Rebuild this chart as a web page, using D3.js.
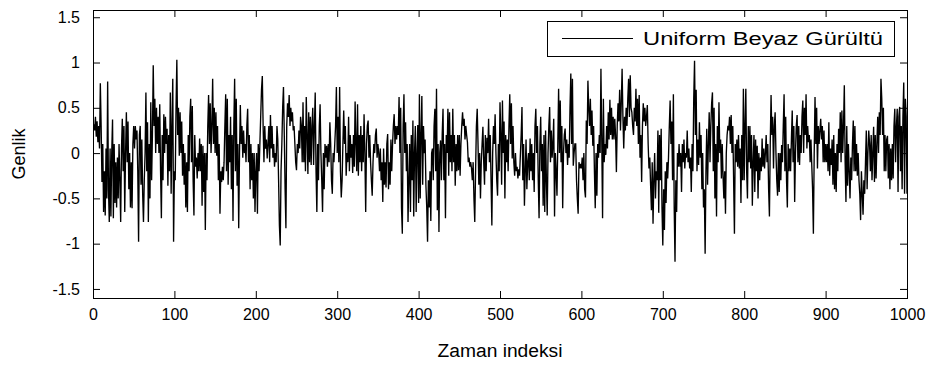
<!DOCTYPE html>
<html>
<head>
<meta charset="utf-8">
<script src="https://cdn.jsdelivr.net/npm/d3@7/dist/d3.min.js"></script>
<style>
  body { margin: 0; background: #fff; }
  svg text { font-family: "Liberation Sans", Arial, Helvetica, sans-serif; fill: #000; }
</style>
</head>
<body>
<svg id="chart" width="935" height="367"></svg>
<script>
// Axis ticks and labels
const xTicks = [0, 100, 200, 300, 400, 500, 600, 700, 800, 900, 1000];
const yTicks = [-1.5, -1, -0.5, 0, 0.5, 1, 1.5];
const xLabel = "Zaman indeksi";
const yLabel = "Genlik";
const legendLabel = "Uniform Beyaz Gürültü";

// Noise samples, n = 1..1000
const genlik = [
  0.32, 0.25, 0.4, 0.18, 0.35, 0.12, 0.3, 0.05, 0.77, 0.3,
  -0.32, 0.1, -0.65, -0.2, -0.69, 0.05, -0.5, 0.79, -0.4, -0.76,
  0.05, -0.7, 0.0, 0.37, -0.72, 0.1, -0.55, -0.1, -0.6, -0.05,
  -0.5, 0.1, -0.3, -0.76, 0.05, 0.38, -0.2, 0.3, -0.65, 0.0,
  0.45, -0.1, 0.35, -0.4, 0.0, -0.6, -0.1, -0.61, 0.1, 0.3,
  0.05, 0.3, 0.15, 0.25, -0.2, -0.98, 0.2, 0.3, -0.35, 0.15,
  -0.45, -0.76, -0.3, 0.0, 0.67, -0.2, 0.34, -0.76, 0.1, -0.5,
  0.56, -0.3, 0.2, 0.97, 0.3, 0.6, 0.0, 0.5, 0.1, 0.4,
  0.0, 0.54, -0.2, -0.72, 0.2, -0.3, 0.43, 0.0, 0.4, 0.1,
  0.27, -0.36, 0.2, -0.2, 0.67, -0.45, 0.3, 0.82, -0.98, -0.2,
  -0.3, 0.5, 1.03, 0.2, 0.5, -0.03, 0.45, 0.0, 0.35, -0.25,
  0.1, -0.35, 0.0, -0.6, -0.1, -0.65, 0.2, -0.2, 0.4, 0.6,
  -0.1, 0.52, -0.3, -0.69, 0.2, -0.15, -0.05, -0.28, 0.0, -0.2,
  0.16, -0.2, 0.1, -0.58, 0.08, -0.43, 0.0, -0.85, 0.0, -0.3,
  0.3, 0.64, 0.1, 0.55, 0.0, 0.3, 0.82, 0.1, 0.5, 0.0,
  0.45, -0.03, 0.3, -0.3, 0.1, -0.67, -0.2, -0.32, -0.15, -0.3,
  -0.1, 0.3, 0.65, -0.2, 0.6, -0.35, 0.2, -0.1, 0.4, -0.4,
  0.2, -0.75, 0.3, 0.82, -0.2, 0.6, -0.36, 0.1, -0.83, 0.0,
  0.53, 0.1, 0.3, -0.05, 0.25, 0.0, 0.1, -0.1, 0.3, 0.49,
  -0.1, 0.2, -0.4, 0.1, -0.3, 0.0, -0.5, 0.0, -0.65, -0.2,
  0.0, -0.67, 0.1, -0.2, 0.1, 0.4, 0.7, 0.85, 0.3, -0.1,
  0.3, 0.05, 0.15, -0.06, 0.1, 0.3, -0.1, 0.42, 0.05, 0.3,
  -0.05, 0.1, -0.15, 0.0, -0.1, 0.3, 0.15, -0.3, -0.8, -1.02,
  -0.2, 0.1, 0.5, 0.73, 0.2, -0.4, -0.83, 0.3, 0.55, 0.4,
  0.64, 0.3, 0.5, 0.35, 0.45, 0.25, 0.3, 0.1, -0.1, -0.19,
  0.1, 0.0, 0.25, 0.05, 0.4, 0.3, -0.1, 0.56, -0.1, 0.3,
  -0.2, 0.62, 0.2, -0.23, 0.45, -0.1, 0.4, -0.13, 0.3, 0.5,
  -0.13, 0.3, 0.67, -0.2, -0.65, 0.1, -0.3, 0.3, 0.54, 0.0,
  -0.3, -0.65, 0.0, -0.4, 0.1, -0.05, 0.08, -0.15, 0.1, -0.1,
  0.34, 0.1, -0.3, -0.45, 0.0, -0.1, 0.1, 0.3, 0.73, 0.0,
  0.4, -0.1, 0.73, -0.2, -0.49, -0.3, 0.1, 0.47, 0.1, 0.3,
  -0.25, 0.0, -0.1, 0.4, -0.2, 0.2, -0.05, 0.1, -0.22, 0.2,
  -0.15, 0.57, 0.1, -0.2, 0.54, -0.25, 0.2, -0.1, 0.3, -0.2,
  0.2, -0.1, 0.43, 0.0, -0.65, 0.1, 0.3, 0.36, -0.05, 0.2,
  -0.1, -0.3, -0.47, -0.1, 0.1, 0.0, 0.2, 0.27, -0.05, 0.1,
  0.0, -0.2, 0.05, -0.3, -0.1, -0.54, 0.05, -0.35, -0.1, -0.38,
  0.1, 0.21, -0.4, -0.1, -0.35, 0.15, -0.2, 0.1, 0.3, 0.43,
  0.1, 0.3, 0.15, 0.3, 0.2, 0.62, 0.0, 0.5, -0.6, -0.89,
  0.3, 0.65, 0.0, 0.34, -0.2, 0.1, -0.76, -0.3, 0.1, -0.65,
  0.2, -0.3, 0.36, -0.7, 0.0, 0.3, -0.65, 0.0, 0.31, -0.55,
  0.65, -0.5, 0.2, 0.63, -0.35, 0.3, 0.0, 0.15, -0.36, -0.6,
  -0.98, -0.3, -0.6, -0.2, -0.75, 0.0, 0.05, -0.3, 0.3, 0.49,
  -0.2, 0.71, -0.63, 0.1, -0.87, 0.0, 0.14, -0.3, 0.2, 0.49,
  -0.3, 0.1, -0.72, 0.2, 0.0, 0.49, -0.25, 0.45, -0.1, 0.2,
  -0.2, 0.49, -0.1, 0.2, -0.36, 0.1, -0.2, 0.2, -0.19, 0.2,
  -0.25, 0.1, 0.3, 0.45, 0.3, 0.38, 0.15, 0.3, 0.2, 0.12,
  -0.1, -0.05, -0.15, -0.1, -0.17, -0.3, -0.1, -0.5, -0.76, -0.2,
  0.3, 0.49, 0.1, -0.35, 0.0, -0.5, -0.1, 0.1, 0.29, -0.1,
  -0.35, 0.2, -0.2, 0.17, 0.0, 0.38, -0.1, 0.2, -0.3, -0.8,
  0.0, 0.3, 0.1, 0.43, 0.0, -0.3, -0.47, 0.1, -0.2, 0.56,
  0.2, -0.35, 0.58, 0.0, 0.35, -0.5, 0.2, -0.1, 0.15, -0.2,
  0.3, 0.65, 0.1, 0.55, -0.06, 0.3, -0.1, -0.25, 0.0, -0.2,
  -0.15, -0.28, -0.18, -0.25, -0.03, 0.2, 0.51, -0.3, 0.1, -0.58,
  -0.2, 0.15, -0.4, -0.1, 0.0, -0.3, 0.16, -0.2, 0.1, -0.3,
  0.0, -0.43, 0.3, 0.49, 0.0, 0.3, -0.3, -0.72, 0.1, 0.4,
  -0.2, 0.1, -0.58, 0.2, -0.65, 0.25, -0.3, -0.69, 0.0, 0.3,
  0.51, -0.1, 0.25, -0.05, 0.1, 0.38, -0.7, 0.0, -0.2, -0.47,
  0.1, 0.71, 0.0, 0.58, -0.1, 0.3, -0.61, 0.0, 0.2, 0.27,
  0.0, 0.15, -0.13, 0.1, -0.05, 0.5, 0.88, 0.1, 0.82, -0.14,
  0.0, 0.1, 0.1, -0.3, -0.5, -0.67, -0.1, -0.17, -0.12, -0.17,
  -0.05, -0.3, 0.0, -0.4, -0.49, 0.36, 0.1, 0.8, 0.5, 0.3,
  0.6, 0.2, 0.47, 0.08, 0.3, -0.2, -0.61, 0.0, -0.47, 0.1,
  -0.05, 0.2, 0.0, 0.93, 0.15, -0.72, 0.6, -0.1, 0.1, -0.02,
  0.3, 0.05, 0.45, 0.15, 0.59, 0.2, 0.5, 0.15, 0.4, 0.15,
  0.38, 0.2, -0.21, 0.3, 0.55, 0.35, 0.7, 0.25, 0.55, 0.93,
  0.4, 0.05, 0.4, 0.25, 0.5, 0.3, 0.6, 0.82, 0.4, 0.86,
  0.5, 0.45, 0.3, 0.2, 0.5, 0.35, 0.71, 0.3, 0.6, 0.1,
  0.64, -0.05, 0.2, -0.32, 0.3, 0.55, 0.35, 0.5, 0.3, 0.4,
  0.53, 0.1, -0.17, -0.05, -0.35, -0.63, -0.1, -0.78, -0.3, 0.0,
  -0.5, -0.2, -0.3, 0.25, -0.66, 0.2, -0.3, 0.27, -0.6, -1.02,
  -0.4, -0.85, -0.2, -0.55, -0.1, -0.28, -0.05, 0.3, 0.58, 0.1,
  0.35, -0.3, 0.65, -0.6, -1.2, -0.3, -0.65, 0.0, -0.15, 0.1,
  -0.15, 0.0, -0.43, 0.1, -0.1, 0.15, -0.17, 0.0, -0.05, 0.25,
  -0.1, 0.05, -0.17, -0.05, -0.43, 0.1, -0.2, 0.6, 1.02, 0.2,
  0.7, -0.2, 0.15, -0.13, 0.34, -0.05, 0.2, -0.4, 0.0, -0.6,
  -0.4, -1.11, -0.2, 0.27, -0.35, 0.1, 0.45, -0.1, 0.3, 0.55,
  0.67, -0.2, 0.5, -0.5, 0.1, -0.7, 0.3, -0.1, 0.56, 0.0,
  0.15, -0.28, 0.1, -0.25, -0.5, -0.2, -0.67, 0.0, 0.2, 0.3,
  0.25, 0.4, 0.1, 0.42, 0.0, 0.3, -0.3, -0.89, 0.1, -0.1,
  0.15, -0.15, 0.2, -0.17, 0.05, -0.55, 0.2, -0.3, 0.71, -0.3,
  0.3, 0.71, -0.2, -0.5, 0.3, -0.1, 0.3, -0.17, 0.2, -0.58,
  -0.1, 0.2, -0.43, 0.15, -0.2, 0.08, -0.5, 0.0, -0.3, -0.05,
  -0.2, 0.16, -0.15, 0.05, -0.17, 0.0, 0.2, -0.1, 0.1, -0.4,
  -0.7, 0.1, 0.64, 0.2, 0.4, -0.17, 0.3, 0.45, 0.0, -0.3,
  -0.47, 0.0, -0.43, 0.0, -0.3, 0.09, -0.1, 0.3, 0.65, -0.2,
  0.4, -0.3, -0.6, 0.1, -0.2, 0.05, -0.2, 0.15, 0.47, -0.1,
  0.3, -0.54, 0.0, 0.3, 0.42, -0.1, 0.3, -0.13, 0.2, 0.0,
  0.4, 0.58, 0.0, 0.5, 0.2, 0.65, 0.05, 0.3, 0.12, 0.2,
  -0.1, 0.15, -0.13, -0.4, -0.89, 0.0, 0.62, 0.1, 0.5, -0.17,
  0.3, 0.1, 0.25, 0.38, 0.15, 0.3, -0.1, 0.25, -0.1, 0.1,
  -0.1, 0.1, -0.2, 0.34, -0.25, 0.05, -0.13, 0.15, -0.35, 0.2,
  -0.4, 0.0, -0.43, 0.1, -0.2, 0.27, 0.0, 0.45, -0.1, 0.47,
  0.0, 0.3, 0.75, -0.1, -0.54, 0.3, -0.36, 0.1, -0.2, -0.5,
  -0.05, -0.3, 0.1, 0.36, -0.2, 0.3, -0.2, 0.1, -0.25, 0.0,
  -0.3, -0.45, -0.74, -0.2, -0.45, -0.68, -0.3, -0.45, -0.1, 0.25,
  -0.4, 0.0, 0.25, 0.1, -0.2, 0.2, -0.3, 0.0, 0.29, -0.32,
  0.2, -0.28, 0.1, 0.4, 0.0, 0.45, 0.2, 0.82, 0.6, 0.2,
  0.5, -0.2, 0.2, -0.2, 0.15, 0.19, -0.28, 0.1, -0.4, 0.05,
  -0.3, 0.1, -0.28, 0.3, 0.49, -0.1, 0.3, 0.49, -0.43, 0.4,
  0.51, -0.2, 0.3, -0.4, 0.4, 0.78, -0.45, 0.6, 0.4, -0.45
];

const svg = d3.select("#chart");
const plot = { left: 93, right: 907, top: 10, bottom: 298 };

const x = d3.scaleLinear().domain([0, 1000]).range([plot.left, plot.right]);
const y = d3.scaleLinear().domain([-1.6, 1.58]).range([plot.bottom, plot.top]);

const fmt = d => String(d);

// Signal trace
const line = d3.line()
  .x((d, i) => x(i + 1))
  .y(d => y(d));

svg.append("path")
  .datum(genlik)
  .attr("fill", "none")
  .attr("stroke", "#000")
  .attr("stroke-width", 1.35)
  .attr("stroke-linejoin", "miter")
  .attr("d", line);

// Axes with inward ticks on all four sides
const tick = 7;
const styleAxis = g => {
  g.select(".domain").remove();
  g.selectAll(".tick line").attr("stroke", "#000");
  g.selectAll(".tick text").attr("font-size", 16).attr("font-family", "Liberation Sans, Arial, sans-serif");
};

svg.append("g")
  .attr("transform", `translate(0,${plot.bottom})`)
  .call(d3.axisBottom(x).tickValues(xTicks).tickFormat(fmt).tickSize(-tick).tickPadding(11))
  .call(styleAxis);

svg.append("g")
  .attr("transform", `translate(0,${plot.top})`)
  .call(d3.axisTop(x).tickValues(xTicks).tickFormat("").tickSize(-tick))
  .call(styleAxis);

svg.append("g")
  .attr("transform", `translate(${plot.left},0)`)
  .call(d3.axisLeft(y).tickValues(yTicks).tickFormat(fmt).tickSize(-tick).tickPadding(13))
  .call(styleAxis);

svg.append("g")
  .attr("transform", `translate(${plot.right},0)`)
  .call(d3.axisRight(y).tickValues(yTicks).tickFormat("").tickSize(-tick))
  .call(styleAxis);

// Plot frame
svg.append("rect")
  .attr("x", plot.left + 0.5).attr("y", plot.top + 0.5)
  .attr("width", plot.right - plot.left).attr("height", plot.bottom - plot.top)
  .attr("fill", "none").attr("stroke", "#000").attr("stroke-width", 1);

// Axis titles
svg.append("text")
  .attr("x", (plot.left + plot.right) / 2).attr("y", 357)
  .attr("text-anchor", "middle").attr("font-size", 18)
  .attr("textLength", 125).attr("lengthAdjust", "spacingAndGlyphs")
  .text(xLabel);

svg.append("text")
  .attr("transform", `translate(25,${(plot.top + plot.bottom) / 2}) rotate(-90)`)
  .attr("text-anchor", "middle").attr("font-size", 18)
  .text(yLabel);

// Legend
const lg = svg.append("g");
lg.append("rect")
  .attr("x", 547.5).attr("y", 21.5).attr("width", 347).attr("height", 35)
  .attr("fill", "#fff").attr("stroke", "#000");
lg.append("line")
  .attr("x1", 562).attr("x2", 633).attr("y1", 38.5).attr("y2", 38.5)
  .attr("stroke", "#000");
lg.append("text")
  .attr("x", 643).attr("y", 45).attr("font-size", 18)
  .attr("textLength", 240).attr("lengthAdjust", "spacingAndGlyphs")
  .text(legendLabel);
</script>
</body>
</html>
